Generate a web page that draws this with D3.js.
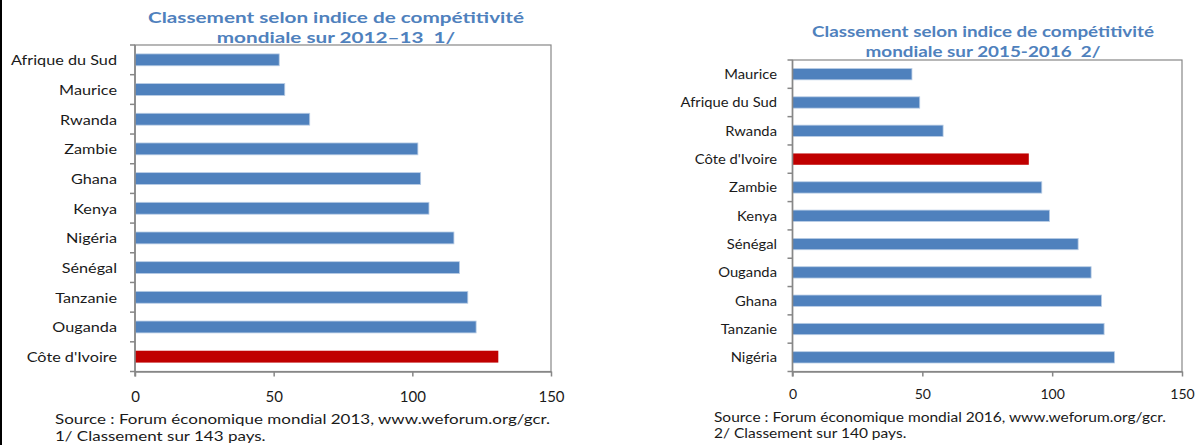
<!DOCTYPE html>
<html>
<head>
<meta charset="utf-8">
<script src="https://cdn.jsdelivr.net/npm/d3@7"></script>
<style>
  body { margin: 0; background: #fff; }
  svg { display: block; }
  text { font-family: Lato, "Open Sans", sans-serif; }
</style>
</head>
<body>
<svg id="chart" width="1202" height="445"></svg>
<script>
// Global Competitiveness Index rankings (WEF)
const countries2013 = ["Afrique du Sud", "Maurice", "Rwanda", "Zambie", "Ghana", "Kenya", "Nigéria", "Sénégal", "Tanzanie", "Ouganda", "Côte d'Ivoire"];
const ranks2013 = [52, 54, 63, 102, 103, 106, 115, 117, 120, 123, 131];

const countries2016 = ["Maurice", "Afrique du Sud", "Rwanda", "Côte d'Ivoire", "Zambie", "Kenya", "Sénégal", "Ouganda", "Ghana", "Tanzanie", "Nigéria"];
const ranks2016 = [46, 49, 58, 91, 96, 99, 110, 115, 119, 120, 124];

const rankTicks = [0, 50, 100, 150];
const highlighted = "Côte d'Ivoire";

const titles2013 = ["Classement selon indice de compétitivité", "mondiale sur 2012–13  1/"];
const titles2016 = ["Classement selon indice de compétitivité", "mondiale sur 2015-2016  2/"];
const notes2013 = ["Source : Forum économique mondial 2013, www.weforum.org/gcr.", "1/ Classement sur 143 pays."];
const notes2016 = ["Source : Forum économique mondial 2016, www.weforum.org/gcr.", "2/ Classement sur 140 pays."];

const BLUE = "#4F81BD", RED = "#C00000", TITLE = "#4F81BD", GREY = "#878787", INK = "#1a1a1a";

const svg = d3.select("#chart");

// Widen a text horizontally by a factor, keeping its height
function widen(sel, factor) {
  sel.each(function () {
    const w = this.getComputedTextLength();
    d3.select(this).attr("textLength", w * factor).attr("lengthAdjust", "spacingAndGlyphs");
  });
}
// Factor that brings one text to a target width
function factorFor(sel, target) {
  return target / sel.node().getComputedTextLength();
}

function panel(cfg) {
  const g = svg.append("g");
  const x = d3.scaleLinear().domain([0, 150]).range([cfg.x0, cfg.x1]);
  const y = d3.scaleBand().domain(cfg.cats).range([cfg.y0, cfg.y1])
    .paddingInner(0.6).paddingOuter(0.3);

  // plot frame
  g.append("rect")
    .attr("x", cfg.x0).attr("y", cfg.y0)
    .attr("width", cfg.x1 - cfg.x0).attr("height", cfg.y1 - cfg.y0)
    .attr("fill", "none").attr("stroke", GREY).attr("stroke-width", 1.2);

  // bars
  g.selectAll("rect.bar").data(cfg.cats).join("rect")
    .attr("class", "bar")
    .attr("x", x(0))
    .attr("y", d => y(d))
    .attr("width", (d, i) => x(cfg.values[i]) - x(0))
    .attr("height", y.bandwidth())
    .attr("fill", d => d === highlighted ? RED : BLUE)
    .attr("stroke", d => d === highlighted ? "none" : "#B9CDE5")
    .attr("stroke-width", 0.8);

  // category axis: ticks sit on the band boundaries
  const step = y.step();
  const bounds = d3.range(cfg.cats.length + 1).map(i => cfg.y0 + i * step);
  g.selectAll("line.ctick").data(bounds).join("line")
    .attr("class", "ctick")
    .attr("x1", cfg.x0 - 5).attr("x2", cfg.x0)
    .attr("y1", d => d).attr("y2", d => d)
    .attr("stroke", GREY).attr("stroke-width", 1.5);
  g.append("line")
    .attr("x1", cfg.x0).attr("x2", cfg.x0)
    .attr("y1", cfg.y0).attr("y2", cfg.y1 + 5)
    .attr("stroke", GREY).attr("stroke-width", 1.6);

  const labels = g.selectAll("text.cat").data(cfg.cats).join("text")
    .attr("class", "cat")
    .attr("x", cfg.labelEnd)
    .attr("y", d => y(d) + y.bandwidth() / 2)
    .attr("text-anchor", "end")
    .attr("dominant-baseline", "central")
    .attr("font-size", cfg.catSize)
    .attr("fill", INK)
    .text(d => d);
  widen(labels, factorFor(labels.filter(d => d === "Afrique du Sud"), cfg.catW));

  // value axis
  const xAxis = g.append("g")
    .attr("transform", `translate(0,${cfg.y1})`)
    .call(d3.axisBottom(x).tickValues(rankTicks).tickSize(5).tickSizeOuter(0));
  xAxis.select(".domain").attr("stroke", GREY).attr("stroke-width", 1.6);
  xAxis.selectAll(".tick line").attr("stroke", GREY).attr("stroke-width", 1.5);
  xAxis.selectAll(".tick text")
    .attr("font-size", cfg.tickSize)
    .attr("font-family", "Lato, sans-serif")
    .attr("fill", INK)
    .attr("dy", null)
    .attr("y", cfg.tickY - cfg.y1)
    .attr("dominant-baseline", "central");

  // title, two centred lines
  const titleLines = g.selectAll("text.title").data(cfg.titles).join("text")
    .attr("class", "title")
    .attr("x", cfg.titleX)
    .attr("y", (d, i) => cfg.titleY[i])
    .attr("text-anchor", "middle")
    .attr("dominant-baseline", "central")
    .attr("font-weight", 700)
    .attr("font-size", cfg.titleSize)
    .attr("fill", TITLE)
    .style("white-space", "pre")
    .text(d => d);
  widen(titleLines, factorFor(titleLines.filter((d, i) => i === 0), cfg.titleW));

  // source notes
  const notes = g.selectAll("text.note").data(cfg.notes).join("text")
    .attr("class", "note")
    .attr("x", cfg.noteX)
    .attr("y", (d, i) => cfg.noteY[i])
    .attr("dominant-baseline", "central")
    .attr("font-size", cfg.noteSize)
    .attr("fill", INK)
    .text(d => d);
  widen(notes, factorFor(notes.filter((d, i) => i === 0), cfg.noteW));
}

panel({
  cats: countries2013, values: ranks2013,
  x0: 135, x1: 551, y0: 45, y1: 371.5,
  labelEnd: 117, catSize: 14, catW: 106, tickSize: 15, tickY: 396,
  titles: titles2013, titleX: 336, titleY: [16, 36], titleSize: 16, titleW: 376,
  notes: notes2013, noteX: 55, noteY: [419, 436], noteSize: 13.5, noteW: 495
});

panel({
  cats: countries2016, values: ranks2016,
  x0: 792.5, x1: 1182, y0: 60, y1: 371.5,
  labelEnd: 777, catSize: 13, catW: 96.5, tickSize: 14, tickY: 393,
  titles: titles2016, titleX: 983, titleY: [31, 51], titleSize: 15, titleW: 342,
  notes: notes2016, noteX: 714, noteY: [417, 433], noteSize: 12.5, noteW: 452
});

// outer frame edge on the left
svg.append("line")
  .attr("x1", 1).attr("x2", 1).attr("y1", 0).attr("y2", 445)
  .attr("stroke", "#000").attr("stroke-width", 2);
</script>
</body>
</html>
